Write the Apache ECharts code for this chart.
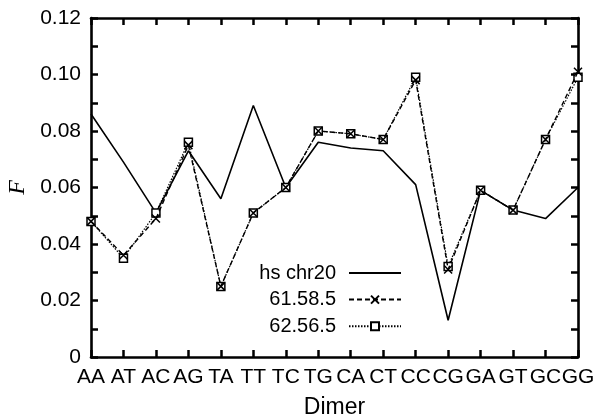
<!DOCTYPE html>
<html>
<head>
<meta charset="utf-8">
<script src="https://cdn.jsdelivr.net/npm/echarts@6/dist/echarts.min.js"></script>
<style>
  html, body { margin: 0; padding: 0; background: #fff; }
  #chart { width: 601px; height: 415px; }
</style>
</head>
<body>
<div id="chart"></div>
<script>
// Dinucleotide (dimer) frequencies F
const dimers = ['AA','AT','AC','AG','TA','TT','TC','TG','CA','CT','CC','CG','GA','GT','GC','GG'];
const hsChr20 = [0.086,0.069,0.051,0.073,0.056,0.089,0.060,0.076,0.074,0.073,0.061,0.013,0.059,0.052,0.049,0.060];
const s61 = [0.048,0.036,0.049,0.075,0.025,0.051,0.060,0.080,0.079,0.077,0.098,0.031,0.059,0.052,0.077,0.101];
const s62 = [0.048,0.035,0.051,0.076,0.025,0.051,0.060,0.080,0.079,0.077,0.099,0.032,0.059,0.052,0.077,0.099];
const seriesNames = ['hs chr20', '61.58.5', '62.56.5'];
const yTicks = { min: 0, max: 0.12, step: 0.01 };

const FONT = 'Liberation Sans, Arial, sans-serif';
const ink = '#000';

const chart = echarts.init(document.getElementById('chart'), null, { renderer: 'canvas' });

// frame: all four axes carry an inward tick and a heavy line
function axisLine() { return { show: true, onZero: false, lineStyle: { color: ink, width: 2.6 } }; }
function axisTick() { return { show: true, inside: true, length: 7, lineStyle: { color: ink, width: 2.5 } }; }

const crossPath = 'path://M0,0L10,10M10,0L0,10';

chart.setOption({
  animation: false,
  backgroundColor: '#fff',
  grid: { left: 91, right: 23, top: 18, bottom: 58, containLabel: false, outerBoundsMode: 'none' },
  legend: {
    orient: 'vertical',
    align: 'right',
    right: 194,
    top: 258,
    itemWidth: 52,
    itemHeight: 10,
    itemGap: 6.6,
    data: [
      { name: seriesNames[0], itemStyle: { opacity: 0 } },
      { name: seriesNames[1] },
      { name: seriesNames[2] }
    ],
    textStyle: { fontFamily: FONT, fontSize: 20, color: ink, lineHeight: 14, padding: [0, 8, 0, 0] }
  },
  xAxis: [
    {
      type: 'category',
      data: dimers,
      boundaryGap: false,
      position: 'bottom',
      axisLine: axisLine(),
      axisTick: axisTick(),
      axisLabel: { fontFamily: FONT, fontSize: 21, color: ink, margin: 10, interval: 0 },
      splitLine: { show: false },
      name: 'Dimer',
      nameLocation: 'middle',
      nameGap: 39,
      nameTextStyle: { fontFamily: FONT, fontSize: 23, color: ink }
    },
    {
      type: 'category',
      data: dimers,
      boundaryGap: false,
      position: 'top',
      axisLine: axisLine(),
      axisTick: axisTick(),
      axisLabel: { show: false },
      splitLine: { show: false }
    }
  ],
  yAxis: [
    {
      type: 'value',
      min: yTicks.min,
      max: yTicks.max,
      interval: yTicks.step,
      position: 'left',
      axisLine: axisLine(),
      axisTick: axisTick(),
      splitLine: { show: false },
      axisLabel: {
        fontFamily: FONT, fontSize: 21, color: ink, margin: 10,
        formatter: function (v) {
          const k = Math.round(v * 100);
          if (k % 2 !== 0) return '';
          return k === 0 ? '0' : (k / 100).toFixed(2);
        }
      },
      name: 'F',
      nameLocation: 'middle',
      nameRotate: 90,
      nameGap: 43,
      nameTextStyle: { fontFamily: 'Liberation Serif, serif', fontStyle: 'italic', fontSize: 24, color: ink }
    },
    {
      type: 'value',
      min: yTicks.min,
      max: yTicks.max,
      interval: yTicks.step,
      position: 'right',
      axisLine: axisLine(),
      axisTick: axisTick(),
      splitLine: { show: false },
      axisLabel: { show: false }
    }
  ],
  series: [
    {
      name: seriesNames[0],
      type: 'line',
      data: hsChr20,
      symbol: 'none',
      lineStyle: { color: ink, width: 1.6, type: 'solid' },
      itemStyle: { color: ink },
      z: 2
    },
    {
      name: seriesNames[1],
      type: 'line',
      data: s61,
      symbol: crossPath,
      symbolSize: 8,
      lineStyle: { color: ink, width: 1.4, type: [5, 3] },
      itemStyle: { color: 'rgba(0,0,0,0)', borderColor: ink, borderWidth: 1.5 },
      z: 4
    },
    {
      name: seriesNames[2],
      type: 'line',
      data: s62,
      symbol: 'rect',
      symbolSize: 8,
      lineStyle: { color: ink, width: 1.2, type: [1.5, 1.5] },
      itemStyle: { color: '#fff', borderColor: ink, borderWidth: 1.5 },
      z: 3
    }
  ]
});
</script>
</body>
</html>
